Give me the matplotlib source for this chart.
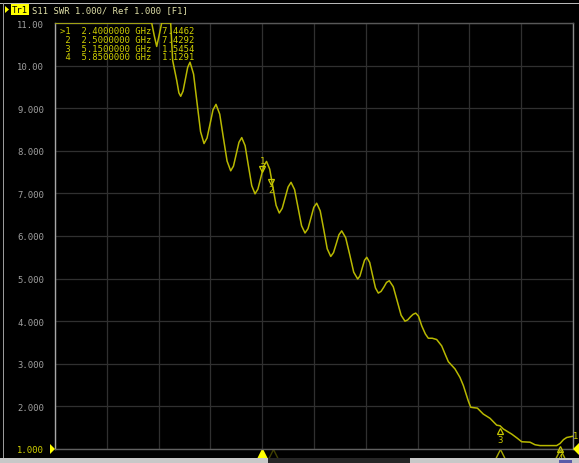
import matplotlib.pyplot as plt
import matplotlib.transforms as mtransforms
from matplotlib.patches import Rectangle, Polygon

freq_ghz = [0.000, 1.120, 1.150, 1.178, 1.205, 1.236, 1.340, 1.363, 1.410, 1.435,
            1.456, 1.483, 1.510, 1.537, 1.564, 1.605, 1.645, 1.686, 1.726, 1.761,
            1.796, 1.830, 1.865, 1.908, 1.950, 1.993, 2.035, 2.067, 2.099, 2.131,
            2.163, 2.202, 2.240, 2.279, 2.317, 2.350, 2.384, 2.417, 2.450, 2.487,
            2.524, 2.561, 2.598, 2.632, 2.666, 2.700, 2.734, 2.775, 2.815, 2.856,
            2.896, 2.930, 2.964, 2.997, 3.031, 3.072, 3.113, 3.153, 3.194, 3.226,
            3.258, 3.289, 3.321, 3.367, 3.414, 3.460, 3.506, 3.532, 3.559, 3.585,
            3.611, 3.645, 3.678, 3.712, 3.745, 3.777, 3.809, 3.840, 3.872, 3.918,
            3.963, 4.009, 4.054, 4.085, 4.116, 4.147, 4.178, 4.210, 4.248, 4.290,
            4.324, 4.370, 4.421, 4.479, 4.520, 4.556, 4.633, 4.691, 4.730, 4.787,
            4.815, 4.850, 4.892, 4.961, 5.039, 5.116, 5.155, 5.193, 5.290, 5.350,
            5.406, 5.502, 5.560, 5.618, 5.811, 5.850, 5.890, 5.927, 6.000]
swr = [11.00, 11.00, 10.70, 10.45, 10.70, 11.00, 11.00, 10.12, 9.65, 9.36,
       9.28, 9.40, 9.68, 9.96, 10.08, 9.80, 9.13, 8.45, 8.17, 8.30,
       8.63, 8.96, 9.09, 8.86, 8.31, 7.76, 7.53, 7.64, 7.92, 8.20,
       8.31, 8.12, 7.65, 7.18, 6.99, 7.10, 7.37, 7.64, 7.75, 7.57,
       7.15, 6.72, 6.54, 6.65, 6.90, 7.15, 7.26, 7.09, 6.67, 6.24,
       6.07, 6.17, 6.42, 6.67, 6.77, 6.59, 6.15, 5.70, 5.52, 5.61,
       5.82, 6.03, 6.12, 5.96, 5.56, 5.15, 4.99, 5.06, 5.25, 5.43,
       5.50, 5.38, 5.08, 4.78, 4.66, 4.70, 4.80, 4.91, 4.95, 4.81,
       4.48, 4.14, 4.00, 4.03, 4.10, 4.16, 4.19, 4.12, 3.89, 3.70,
       3.60, 3.60, 3.57, 3.42, 3.22, 3.05, 2.88, 2.68, 2.49, 2.13,
       1.98, 1.97, 1.96, 1.82, 1.72, 1.56, 1.545, 1.47, 1.35, 1.26,
       1.17, 1.16, 1.10, 1.08, 1.08, 1.13, 1.22, 1.27, 1.30]

# markers
mk_names = ["1", "2", "3", "4"]
mk_freq = [2.4, 2.5, 5.15, 5.85]
mk_val = [7.4462, 7.4292, 1.5454, 1.1291]

yticks = [1, 2, 3, 4, 5, 6, 7, 8, 9, 10, 11]
ylabels = ["1.000", "2.000", "3.000", "4.000", "5.000", "6.000", "7.000",
           "8.000", "9.000", "10.00", "11.00"]
f_start, f_stop = 0.0, 6.0

W, H = 579, 464
YEL = "#b8b800"
MONO = "DejaVu Sans Mono"

fig = plt.figure(figsize=(W / 100, H / 100), dpi=100, facecolor="black")
ax = fig.add_axes([55 / W, 14 / H, 518 / W, 426 / H], facecolor="black")

ax.plot(freq_ghz, swr, color=YEL, lw=1.1, solid_joinstyle="round", zorder=3)

ax.set_xlim(f_start, f_stop)
ax.set_ylim(1, 11)
ax.set_xticks([f_start + i * (f_stop - f_start) / 10 for i in range(11)])
ax.set_xticklabels([])
ax.set_yticks(yticks)
ax.set_yticklabels(ylabels, fontfamily=MONO, fontsize=6.4)
ax.tick_params(length=0, pad=8)
for lab in ax.get_yticklabels():
    lab.set_color("#a0a0a0")
ax.get_yticklabels()[0].set_color("#d0d000")
ax.grid(True, color="#303030", lw=0.9)
ax.set_axisbelow(True)
ax.spines["left"].set_color("#a8a8a8")
ax.spines["top"].set_color("#585858")
ax.spines["right"].set_color("#8a8a8a")
ax.spines["bottom"].set_color("#606060")
for s in ax.spines.values():
    s.set_linewidth(1.0)

# markers on the trace
MK = "#c8c800"
up = mtransforms.offset_copy(ax.transData, fig=fig, y=5, units="dots")
down = mtransforms.offset_copy(ax.transData, fig=fig, y=-5, units="dots")
ax.plot(mk_freq[0], mk_val[0], marker="v", ms=5, mfc="none", mec=MK, mew=0.9,
        transform=up, zorder=4)
ax.text(mk_freq[0], mk_val[0], mk_names[0], color=MK, fontsize=6.5, fontfamily=MONO,
        ha="center", va="bottom",
        transform=mtransforms.offset_copy(ax.transData, fig=fig, y=9, units="dots"))
ax.plot(mk_freq[1], mk_val[1], marker="v", ms=5, mfc="none", mec=MK, mew=0.9,
        transform=mtransforms.offset_copy(ax.transData, fig=fig, y=-7, units="dots"),
        zorder=4)
ax.text(mk_freq[1], mk_val[1], mk_names[1], color=MK, fontsize=6.5, fontfamily=MONO,
        ha="center", va="top",
        transform=mtransforms.offset_copy(ax.transData, fig=fig, y=-10, units="dots"))
for i in (2, 3):
    ax.plot(mk_freq[i], mk_val[i], marker="^", ms=5, mfc="none", mec=MK, mew=0.9,
            transform=down, zorder=4, clip_on=False)
    ax.text(mk_freq[i], mk_val[i], mk_names[i], color=MK, fontsize=6.5,
            fontfamily=MONO, ha="center", va="top", clip_on=False,
            transform=mtransforms.offset_copy(ax.transData, fig=fig, y=-9, units="dots"))

# marker flags under the grid
bt = mtransforms.blended_transform_factory(ax.transData, fig.transFigure)
yb = 1 - 454.5 / H
ax.plot(mk_freq[0], yb, marker="^", ms=7, color="#ffff00", mec="#ffff00",
        transform=bt, clip_on=False)
ax.plot(mk_freq[1] + 0.02, yb, marker="^", ms=7, mfc="none", mec="#404000",
        transform=bt, clip_on=False)
for i in (2, 3):
    ax.plot(mk_freq[i], yb, marker="^", ms=7, mfc="none", mec="#a8a800", mew=1.0,
            transform=bt, clip_on=False)

# marker table
for i in range(4):
    act = ">" if i == 0 else " "
    line = f"{act}{mk_names[i]}  {mk_freq[i]:.7f} GHz  {mk_val[i]:.4f}"
    fig.text(60 / W, 1 - (32 + i * 8.5) / H, line, color="#d0d000", fontsize=6.4,
             fontfamily=MONO, va="center", ha="left")

# header
fig.text(12 / W, 1 - 10.5 / H, "Tr1", color="black", fontsize=6.4, fontfamily=MONO,
         va="center", ha="left",
         bbox=dict(boxstyle="square,pad=0.12", fc="#ffff00", ec="none"))
fig.text(32 / W, 1 - 10.5 / H, "S11 SWR 1.000/ Ref 1.000 [F1]", color="#e0e0a8",
         fontsize=6.4, fontfamily=MONO, va="center", ha="left")
fig.patches.append(Polygon([[5 / W, 1 - 7 / H], [5 / W, 1 - 14 / H], [9 / W, 1 - 10.5 / H]],
                           closed=True, transform=fig.transFigure, fc="#ffff00", ec="none"))

# reference arrows at 1.000
fig.patches.append(Polygon([[50 / W, 1 - 445 / H], [50 / W, 1 - 455 / H], [55 / W, 1 - 450 / H]],
                           closed=True, transform=fig.transFigure, fc="#ffff00", ec="none"))
fig.patches.append(Polygon([[579 / W, 1 - 444 / H], [579 / W, 1 - 456 / H], [573 / W, 1 - 450 / H]],
                           closed=True, transform=fig.transFigure, fc="#ffff00", ec="none"))
fig.text(576 / W, 1 - 437 / H, "1", color=MK, fontsize=6.4, fontfamily=MONO,
         va="center", ha="center")

# screen frame and status strip
fig.patches.append(Rectangle((0, 1 - 5 / H), 1, 1.5 / H, transform=fig.transFigure,
                             fc="#b8b8b8", ec="none"))
fig.patches.append(Rectangle((2.5 / W, 0), 1.5 / W, 1 - 4 / H, transform=fig.transFigure,
                             fc="#9a9a9a", ec="none"))
fig.patches.append(Rectangle((0, 0), 1, 5 / H, transform=fig.transFigure,
                             fc="#c8c8c8", ec="none"))
fig.patches.append(Rectangle((268 / W, 0), 142 / W, 5 / H, transform=fig.transFigure,
                             fc="#262626", ec="none"))
fig.patches.append(Rectangle((559 / W, 0), 13 / W, 3 / H, transform=fig.transFigure,
                             fc="#5a5aa8", ec="none"))

fig.savefig("out.png", dpi=100, facecolor="black")
